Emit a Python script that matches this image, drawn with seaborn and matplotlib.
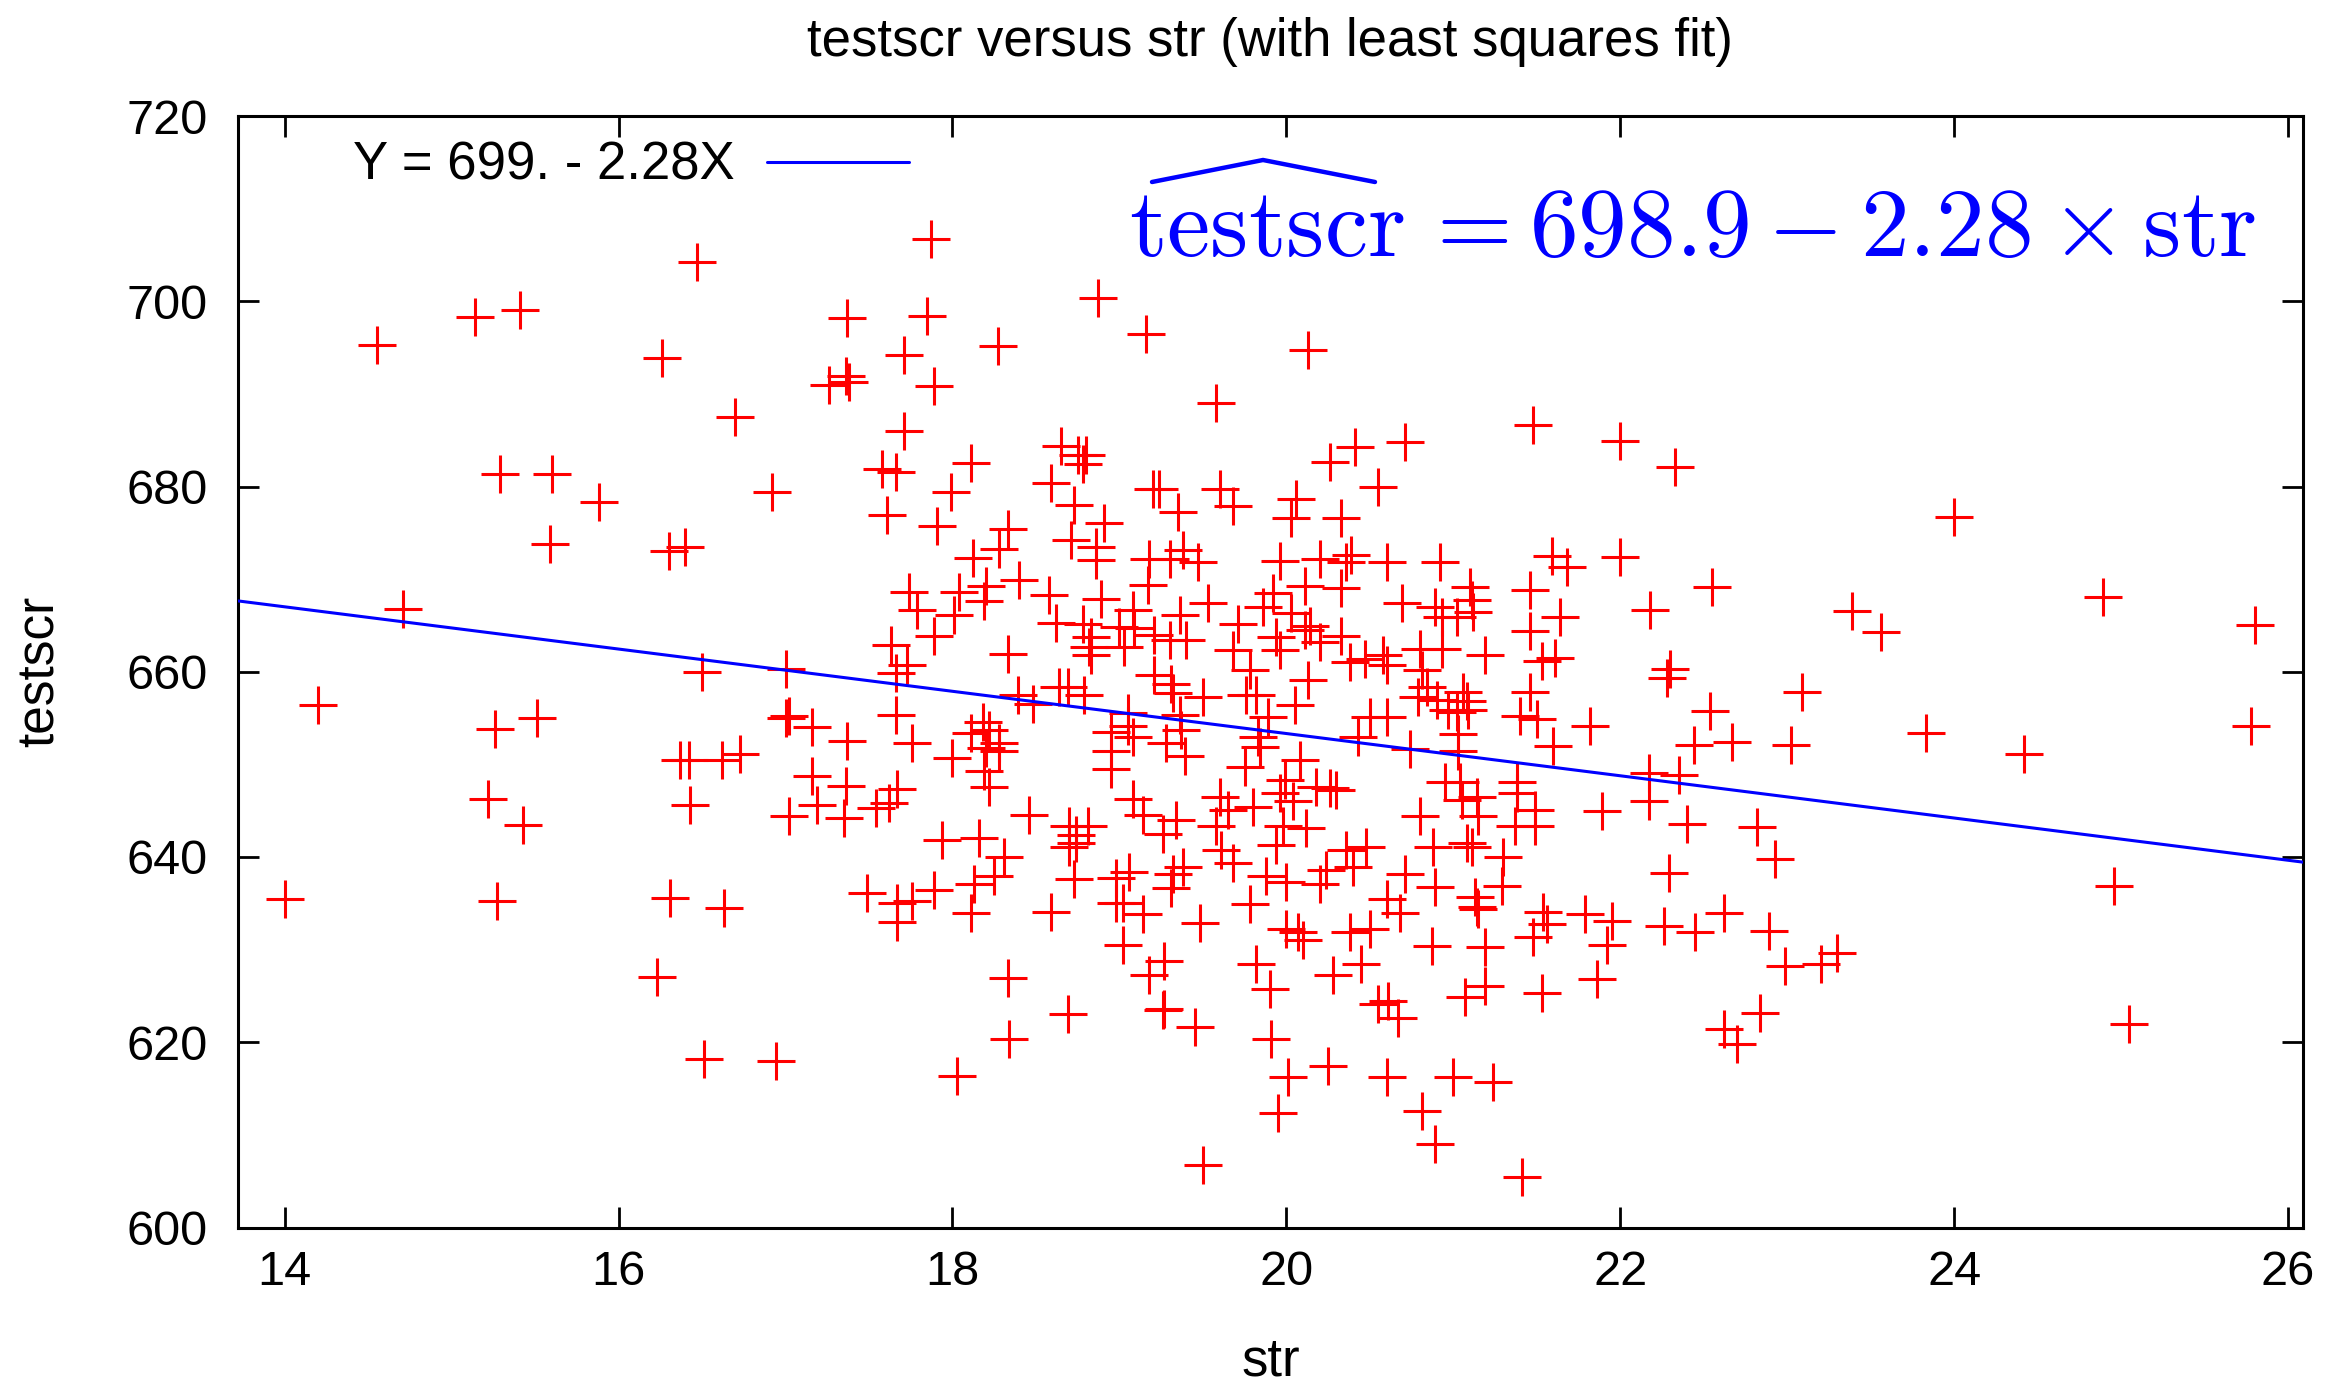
import matplotlib
matplotlib.use("Agg")
import matplotlib.pyplot as plt
from matplotlib.lines import Line2D
import numpy as np
import pandas as pd
import seaborn as sns

# ---------------- data ----------------
str_vals = [
    14.00, 14.20, 14.55, 14.71, 15.14, 15.41, 16.47, 16.26, 16.70, 15.29, 15.60, 15.88, 15.59, 16.30, 16.40, 16.92,
    16.50, 17.00, 17.00, 17.02, 15.26, 15.51, 15.22, 15.43, 15.27, 16.37, 16.42, 16.62, 16.73, 16.43, 16.31, 16.63,
    16.23, 16.51, 16.94, 17.02,
    17.87, 18.87, 17.37, 17.85, 17.71, 18.27, 17.89, 17.26, 17.36, 17.38, 17.71, 17.58, 17.66, 18.11, 17.99, 17.61,
    17.91, 18.65, 18.75, 18.80, 18.78, 18.59, 18.73, 18.91, 18.71, 18.86, 18.86, 18.33, 18.28, 18.12,
    19.16, 20.13, 19.58, 20.26, 20.41, 20.71, 20.55, 19.20, 19.24, 19.35, 19.60, 19.68, 20.06, 20.03, 20.33, 19.18,
    19.30, 19.38, 19.47, 19.96, 20.20, 20.39, 20.36, 20.60, 20.92,
    21.48, 22.00, 22.33, 21.59, 21.68, 22.00,
    17.74, 17.79, 18.04, 18.20, 18.19, 18.01, 17.89, 18.40, 18.58, 18.62, 18.89, 18.78, 18.83, 18.82, 18.83, 19.00,
    17.63, 17.73, 17.66, 18.33, 18.39, 18.48, 18.64, 18.69, 18.79, 17.16, 17.37, 17.66, 17.76, 18.18, 18.22, 18.28,
    18.28, 18.20, 18.11, 18.00, 18.19, 18.22, 18.95, 18.95, 18.95, 17.16, 17.36, 17.19, 17.35, 17.54, 17.62, 17.67,
    17.94, 18.16, 18.46, 18.70, 18.74, 18.81, 18.70, 18.74, 18.31,
    19.17, 19.53, 19.92, 19.86, 20.03, 20.11, 20.33, 20.69, 20.89, 20.93, 19.08, 19.36, 19.09, 19.21, 19.30, 19.40,
    19.03, 19.71, 19.68, 19.78, 19.96, 19.94, 20.11, 20.14, 20.20, 20.33, 20.38, 20.47, 20.58, 20.60, 20.13, 20.80,
    20.93, 20.81, 20.84, 20.79, 20.90, 20.97, 19.21, 19.31, 19.32, 19.50, 19.36, 19.37, 19.28, 19.39, 19.05, 19.05,
    19.08, 19.76, 19.82, 19.89, 19.83, 19.84, 19.75, 20.05, 20.08, 19.99, 20.18, 20.26, 20.30, 19.96, 20.04, 20.43,
    20.50, 20.60, 20.74, 20.95, 20.80, 20.88, 19.08, 19.14, 19.34, 19.26, 19.60, 19.65, 19.80, 19.58, 19.61, 19.98,
    20.12, 19.94, 20.36, 20.48,
    21.10, 21.11, 21.02, 21.12, 21.46, 21.64, 21.46, 22.55, 22.18, 21.19, 21.53, 21.61, 22.30, 22.28, 22.54, 21.46,
    21.06, 21.08, 21.02, 21.09, 21.03, 21.03, 21.40, 21.50, 21.82, 21.60, 22.44, 22.67, 23.02, 22.17, 22.35, 22.17,
    21.89, 22.40, 22.82, 21.04, 21.14, 21.05, 21.15, 21.38, 21.38, 21.49, 21.37, 21.49, 21.08, 21.11, 21.30, 22.93,
    17.49, 17.67, 17.76, 17.67, 17.89, 18.13, 18.25, 18.11, 18.59, 18.73, 18.98, 18.98, 18.33, 18.69, 18.34, 18.03,
    19.06, 19.32, 19.38, 19.68, 19.88, 20.00, 20.20, 20.24, 20.40, 20.71, 20.89, 19.31, 19.14, 19.02, 19.02, 19.48,
    19.78, 20.60, 20.68, 20.00, 20.07, 20.10, 20.38, 20.50, 20.87, 19.27, 19.18, 19.82, 19.90, 20.28, 20.45, 20.55,
    20.61, 20.67, 19.26, 19.27, 19.45, 19.91, 20.01, 20.25, 20.60, 21.00, 19.95, 20.81, 20.89, 19.50,
    22.29, 21.29, 21.13, 21.14, 21.15, 21.54, 21.56, 21.48, 21.79, 21.95, 21.92, 22.26, 22.45, 22.62, 22.89, 22.99,
    21.19, 21.19, 21.07, 21.53, 21.86, 22.84, 22.62, 22.70, 21.24, 21.41,
    24.00, 23.39, 23.56, 24.89, 25.80, 25.78, 23.09, 23.83, 24.42, 24.96, 25.05, 23.20, 23.30,
]
testscr_vals = [
    635.5, 656.4, 695.3, 666.8, 698.3, 699.1, 704.2, 693.9, 687.5, 681.3, 681.3, 678.3, 673.8, 673.0, 673.5, 679.4,
    660.0, 660.3, 655.0, 655.2, 653.8, 655.0, 646.3, 643.5, 635.3, 650.5, 650.5, 650.5, 651.1, 645.6, 635.6, 634.5,
    627.0, 618.2, 618.0, 644.4,
    706.7, 700.3, 698.2, 698.4, 694.2, 695.2, 690.8, 691.0, 691.9, 691.3, 686.0, 681.9, 681.6, 682.5, 679.4, 676.9,
    675.7, 684.4, 683.4, 683.4, 682.4, 680.4, 678.0, 676.1, 674.2, 673.5, 672.1, 675.4, 673.2, 672.3,
    696.5, 694.7, 689.0, 682.6, 684.3, 684.8, 680.0, 679.7, 679.7, 677.2, 679.7, 677.9, 678.7, 676.6, 676.6, 672.2,
    672.2, 673.1, 671.9, 672.0, 672.2, 672.6, 671.9, 671.9, 671.9,
    686.6, 684.9, 682.1, 672.5, 671.3, 672.4,
    668.6, 666.7, 668.6, 669.3, 667.6, 666.1, 663.9, 669.9, 668.3, 665.3, 667.9, 665.2, 663.8, 662.7, 661.8, 664.8,
    662.9, 660.7, 659.9, 661.9, 657.5, 656.5, 658.3, 658.3, 657.5, 654.0, 652.5, 655.3, 652.3, 654.6, 653.7, 652.3,
    651.4, 651.8, 653.4, 650.7, 649.3, 647.6, 653.5, 651.4, 649.5, 648.7, 647.7, 645.6, 644.2, 645.3, 645.8, 647.3,
    641.8, 642.1, 644.5, 643.3, 642.4, 643.3, 641.1, 641.5, 640.0,
    669.4, 667.4, 668.5, 667.0, 666.3, 669.3, 669.0, 667.4, 667.0, 665.9, 666.7, 666.1, 664.7, 664.0, 663.4, 663.4,
    662.7, 665.2, 662.3, 660.2, 662.3, 663.8, 664.5, 664.9, 663.2, 663.9, 661.1, 661.4, 661.8, 660.7, 659.1, 662.5,
    662.5, 660.2, 658.4, 657.3, 656.9, 655.9, 659.6, 658.7, 657.7, 657.3, 655.3, 653.7, 652.3, 650.9, 655.5, 654.1,
    653.0, 657.5, 657.5, 655.1, 653.0, 651.9, 649.7, 656.4, 650.5, 648.3, 647.6, 647.4, 647.2, 646.9, 646.0, 653.0,
    655.1, 655.1, 651.7, 648.1, 644.4, 641.1, 646.3, 644.5, 644.0, 642.5, 646.5, 645.1, 645.4, 643.3, 640.8, 643.3,
    643.1, 641.3, 640.8, 641.1,
    669.2, 667.7, 665.9, 666.5, 668.8, 665.9, 664.4, 669.1, 666.7, 661.8, 661.2, 661.5, 660.3, 659.3, 655.8, 657.8,
    657.8, 656.8, 655.7, 655.9, 653.3, 651.4, 655.2, 654.9, 654.1, 652.0, 652.1, 652.4, 652.1, 649.1, 648.9, 646.0,
    645.0, 643.6, 643.2, 648.1, 646.5, 646.1, 644.4, 648.1, 646.9, 645.1, 643.4, 643.4, 641.5, 641.1, 640.0, 639.8,
    636.1, 635.0, 635.2, 633.0, 636.4, 637.1, 637.9, 634.0, 634.1, 637.6, 635.0, 637.7, 626.9, 623.0, 620.4, 616.4,
    638.4, 638.2, 638.9, 639.3, 638.0, 637.3, 637.1, 638.6, 638.9, 638.2, 636.8, 636.6, 633.9, 635.0, 630.5, 632.9,
    634.9, 635.5, 634.0, 632.2, 631.9, 631.0, 631.9, 632.2, 630.4, 628.8, 627.3, 628.5, 625.8, 627.3, 628.4, 624.1,
    624.5, 622.6, 623.5, 623.6, 621.7, 620.3, 616.3, 617.4, 616.3, 616.3, 612.4, 612.6, 609.0, 606.7,
    638.3, 636.9, 635.7, 634.6, 634.4, 634.1, 632.8, 631.4, 633.9, 633.1, 630.5, 632.5, 631.9, 634.0, 632.0, 628.2,
    630.3, 626.1, 624.9, 625.3, 626.8, 623.2, 621.4, 619.8, 615.7, 605.5,
    676.7, 666.6, 664.3, 668.1, 665.0, 654.1, 657.8, 653.4, 651.1, 636.9, 622.0, 628.5, 629.6,
]

fit_intercept = 698.93
fit_slope = -2.28
x_limits = [13.72, 26.09]
y_limits = [600, 720]
x_ticks = [14, 16, 18, 20, 22, 24, 26]
y_ticks = [600, 620, 640, 660, 680, 700, 720]
title_text = "testscr versus str (with least squares fit)"
x_label = "str"
y_label = "testscr"
legend_label = "Y = 699. - 2.28X"
formula_text = r"$\mathrm{testscr}\, = 698.9 - 2.28 \times \mathrm{str}$"

# ---------------- style ----------------
sns.set_theme(style="ticks")
plt.rcParams["font.family"] = ["Liberation Sans", "DejaVu Sans"]
plt.rcParams["mathtext.fontset"] = "cm"
plt.rcParams["text.color"] = "black"
plt.rcParams["axes.labelcolor"] = "black"
plt.rcParams["xtick.color"] = "black"
plt.rcParams["ytick.color"] = "black"

W, H = 2330, 1384
fig = plt.figure(figsize=(W / 100, H / 100), dpi=100)
ax_left, ax_right, ax_top, ax_bottom = 238, 2303, 116, 1227.5
ax = fig.add_axes([ax_left / W, 1 - ax_bottom / H, (ax_right - ax_left) / W, (ax_bottom - ax_top) / H])

df = pd.DataFrame({"str": str_vals, "testscr": testscr_vals})
sns.scatterplot(data=df, x="str", y="testscr", marker="+", color="red", s=28 ** 2,
                linewidth=2.2, ax=ax, legend=False, zorder=2)

fit_df = pd.DataFrame({"str": x_limits,
                       "testscr": [fit_intercept + fit_slope * v for v in x_limits]})
sns.lineplot(data=fit_df, x="str", y="testscr", color="blue", linewidth=2.2, ax=ax,
             label=legend_label, zorder=3)

ax.set_xlim(x_limits)
ax.set_ylim(y_limits)
ax.set_xticks(x_ticks)
ax.set_yticks(y_ticks)
ax.tick_params(axis="both", direction="in", length=15, width=2, top=True, right=True,
               labelsize=35, colors="black")
ax.tick_params(axis="y", pad=22)
ax.tick_params(axis="x", pad=16)
for sp in ax.spines.values():
    sp.set_visible(True)
    sp.set_linewidth(2.2)
    sp.set_color("black")

ax.set_xlabel(x_label, fontsize=38, va="center", color="black")
ax.set_ylabel(y_label, fontsize=37, va="center", color="black")
ax.xaxis.set_label_coords(0.5, -0.121)
ax.yaxis.set_label_coords(-0.096, 0.5)

fig.text(1270 / W, 1 - 42 / H, title_text, ha="center", va="center", fontsize=38, color="black")

ax.legend(loc="center right", bbox_to_anchor=(909 / W, 1 - 166 / H), bbox_transform=fig.transFigure,
          frameon=False, markerfirst=False, handlelength=2.7, handletextpad=0.6,
          borderpad=0, borderaxespad=0, fontsize=38, labelcolor="black")

fig.text(1129 / W, 1 - 256 / H, formula_text, ha="left", va="baseline", color="blue", fontsize=70)
# thin wide hat over "testscr"
hat_x = [1152 / W, 1263 / W, 1375 / W]
hat_y = [1 - 182 / H, 1 - 160 / H, 1 - 182 / H]
fig.add_artist(Line2D(hat_x, hat_y, transform=fig.transFigure, color="blue", linewidth=3.2,
                      solid_joinstyle="miter"))

fig.savefig("out.png", dpi=100)
